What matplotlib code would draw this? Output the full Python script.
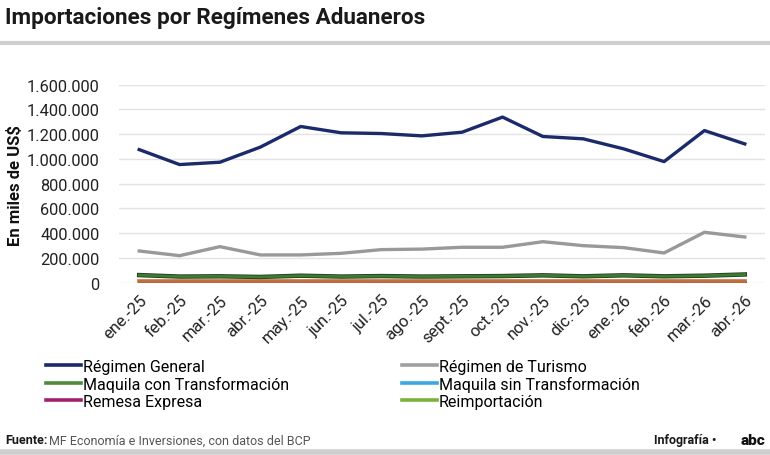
import matplotlib
matplotlib.use("Agg")
import matplotlib.pyplot as plt
from matplotlib.lines import Line2D
from matplotlib.ticker import FuncFormatter

months = ['ene.-25', 'feb.-25', 'mar.-25', 'abr.-25', 'may.-25', 'jun.-25', 'jul.-25', 'ago.-25',
          'sept.-25', 'oct.-25', 'nov.-25', 'dic.-25', 'ene.-26', 'feb.-26', 'mar.-26', 'abr.-26']

# miles de US$
regimen_general = [1075000, 954000, 973000, 1095000, 1262000, 1211000, 1205000, 1186000,
                   1216000, 1338000, 1181000, 1162000, 1081000, 978000, 1229000, 1121000]
regimen_turismo = [255000, 217000, 290000, 223000, 223000, 236000, 266000, 270000,
                   285000, 285000, 330000, 298000, 282000, 239000, 406000, 368000]
maquila_con = [60000, 48000, 50000, 45000, 55000, 48000, 52000, 48000,
               50000, 52000, 58000, 50000, 58000, 50000, 55000, 65000]
maquila_sin = [2000, 2000, 2000, 2000, 2000, 2000, 2000, 2000,
               2000, 2000, 2000, 2000, 2000, 2000, 2000, 2000]
remesa = [4000, 4000, 4000, 4000, 4000, 4000, 4000, 4000,
          4000, 4000, 4000, 4000, 4000, 4000, 4000, 4000]
reimportacion = [1000, 1000, 1000, 1000, 1000, 1000, 1000, 1000,
                 1000, 1000, 1000, 1000, 1000, 1000, 1000, 1000]
otros = [10000, 10000, 10000, 10000, 10000, 10000, 10000, 10000,
         10000, 10000, 10000, 10000, 10000, 10000, 10000, 10000]

yticks = [0, 200000, 400000, 600000, 800000, 1000000, 1200000, 1400000, 1600000]

plt.rcParams['font.family'] = ['Roboto', 'DejaVu Sans']

fig = plt.figure(figsize=(7.7, 4.56), dpi=100)
ax = fig.add_axes([119 / 770, (456 - 283.5) / 456, (765 - 119) / 770, (283.5 - 85.7) / 456])

x = list(range(len(months)))
ax.plot(x, reimportacion, color='#7ab23a', lw=2)
ax.plot(x, maquila_sin, color='#1b2a6b', lw=2)
ax.plot(x, remesa, color='#a3206f', lw=2)
ax.plot(x, otros, color='#c0703a', lw=2.6)
ax.plot(x, maquila_con, color='#1e3d1c', lw=3.2)
ax.plot(x, maquila_con, color='#3f7a35', lw=2)
ax.plot(x, regimen_turismo, color='#999999', lw=2.4)
ax.plot(x, regimen_general, color='#1b2a6b', lw=2.4)

ax.set_xlim(-0.5, len(months) - 0.5)
ax.set_ylim(0, 1600000)
ax.set_yticks(yticks)
ax.yaxis.set_major_formatter(FuncFormatter(lambda v, p: f'{int(v):,}'.replace(',', '.')))
ax.grid(axis='y', color='#e3e3e3', lw=1)
ax.set_axisbelow(True)
for s in ax.spines.values():
    s.set_visible(False)
ax.tick_params(axis='y', length=0, pad=14, labelsize=11.8, labelcolor='#222222')
ax.set_xticks(x)
ax.set_xticklabels(months, rotation=45, ha='right', rotation_mode='anchor', fontsize=12, color='#222222')
ax.tick_params(axis='x', length=0, pad=7)

fig.text(15 / 770, (456 - 186) / 456, 'En miles de US$', rotation=90, ha='center', va='center',
         fontsize=12, fontweight='bold', color='#111111')

# legend reads across rows in the reference, matplotlib fills columns first
handles = [
    Line2D([], [], color='#1b2a6b', lw=2.6), Line2D([], [], color='#4f8a3c', lw=2.6),
    Line2D([], [], color='#a3206f', lw=2.6), Line2D([], [], color='#a0a0a0', lw=2.6),
    Line2D([], [], color='#39a9e1', lw=2.6), Line2D([], [], color='#7ab23a', lw=2.6),
]
labels = ['Régimen General', 'Maquila con Transformación', 'Remesa Expresa',
          'Régimen de Turismo', 'Maquila sin Transformación', 'Reimportación']
fig.legend(handles, labels, ncol=2, loc='upper left', bbox_to_anchor=(38 / 770, (456 - 352) / 456),
           frameon=False, fontsize=11.5, handlelength=2.2, handletextpad=0.1,
           columnspacing=7.1, labelspacing=0.12, borderpad=0)

# title and rules
fig.text(5 / 770, (456 - 18) / 456, 'Importaciones por Regímenes Aduaneros',
         fontsize=16.2, fontweight='bold', color='#1a1a1a', ha='left', va='center')
fig.add_artist(Line2D([0, 1], [(456 - 44) / 456] * 2, color='#cfcfcf', lw=3))
fig.add_artist(Line2D([0, 1], [3 / 456] * 2, color='#cfcfcf', lw=4))

fy = (456 - 441) / 456
fig.text(5 / 770, fy, 'Fuente:', fontsize=9, fontweight='bold',
         color='#1a1a1a', ha='left', va='center')
fig.text(49 / 770, fy, 'MF Economía e Inversiones, con datos del BCP',
         fontsize=9, color='#555555', ha='left', va='center')
fig.text(716 / 770, fy, 'Infografía •', fontsize=9, fontweight='bold',
         color='#1a1a1a', ha='right', va='center')
fig.text(765 / 770, fy, 'abc', fontsize=11, fontweight='heavy',
         color='#111111', ha='right', va='center')

fig.savefig('out.png', dpi=100)
